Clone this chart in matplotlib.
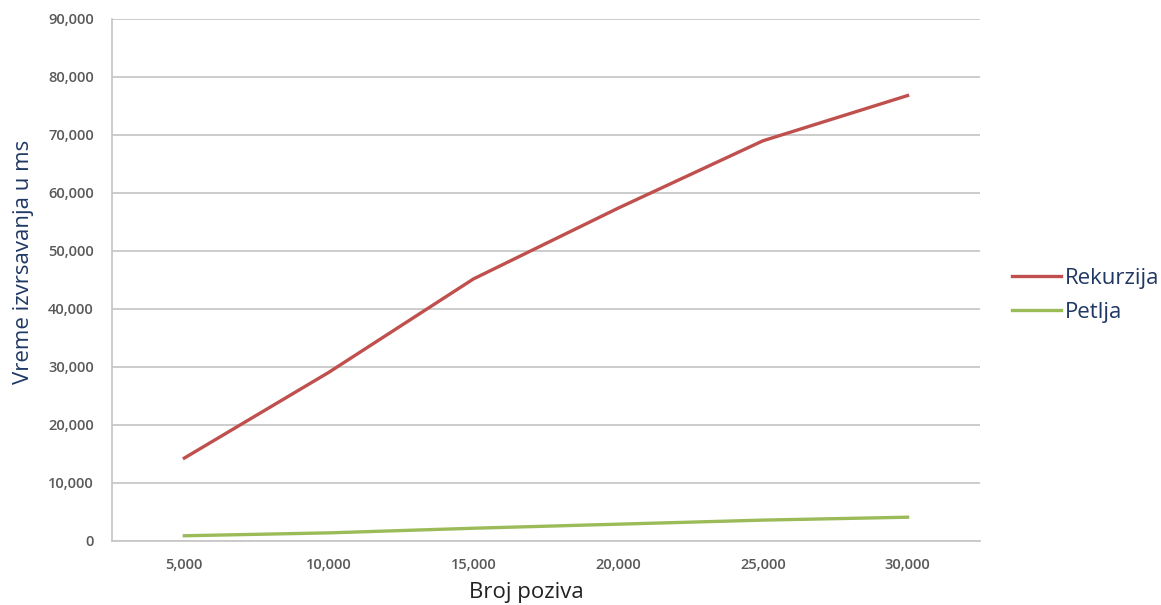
#!/usr/bin/env python3

import matplotlib.pyplot as plt
from matplotlib.ticker import FuncFormatter

# broj poziva i izmjereno vrijeme (ms)
calls = ["5,000", "10,000", "15,000", "20,000", "25,000", "30,000"]
recursion_ms = [14300, 29100, 45200, 57400, 69000, 76800]
loop_ms = [900, 1400, 2200, 2900, 3600, 4100]

RED = "#c0504d"
GREEN = "#9bbb59"
GRID = "#c8c8c8"
TICK = "#595959"
LABEL = "#1f3864"


def main():
    plt.rcParams["font.family"] = ["Open Sans", "DejaVu Sans"]

    fig = plt.figure(figsize=(11.61, 6.05), dpi=100)
    ax = fig.add_axes([0.0965, 0.1058, 0.7475, 0.8628])

    x = range(len(calls))
    ax.plot(x, recursion_ms, color=RED, lw=2.4, label="Rekurzija")
    ax.plot(x, loop_ms, color=GREEN, lw=2.4, label="Petlja")

    ax.set_xlim(-0.5, len(calls) - 0.5)
    ax.set_ylim(0, 90000)
    ax.set_yticks(range(0, 90001, 10000))
    ax.yaxis.set_major_formatter(FuncFormatter(lambda v, _: f"{int(v):,}"))
    ax.set_xticks(list(x))
    ax.set_xticklabels(calls)

    ax.grid(axis="y", color=GRID, lw=1.3)
    ax.set_axisbelow(True)
    for side in ("top", "right"):
        ax.spines[side].set_visible(False)
    for side in ("left", "bottom"):
        ax.spines[side].set_color(GRID)
        ax.spines[side].set_linewidth(1.3)

    ax.tick_params(axis="both", length=0, labelsize=10.5, labelcolor=TICK)
    ax.tick_params(axis="x", pad=12)
    ax.tick_params(axis="y", pad=13)
    for lbl in ax.get_xticklabels() + ax.get_yticklabels():
        lbl.set_fontweight("semibold")

    ax.set_ylabel("Vreme izvrsavanja u ms", fontsize=16, color=LABEL)
    ax.yaxis.set_label_coords(-0.09, 0.535)
    ax.set_xlabel("Broj poziva", fontsize=16, color="#222222")
    ax.xaxis.set_label_coords(0.478, -0.078)

    leg = ax.legend(loc="center left", bbox_to_anchor=(0.862, 0.512),
                    bbox_transform=fig.transFigure, frameon=False,
                    fontsize=16, handlelength=2.2, handletextpad=0.2,
                    labelspacing=0.6, borderpad=0)
    for text in leg.get_texts():
        text.set_color(LABEL)

    fig.savefig("out.png", dpi=100)


if __name__ == "__main__":
    main()
